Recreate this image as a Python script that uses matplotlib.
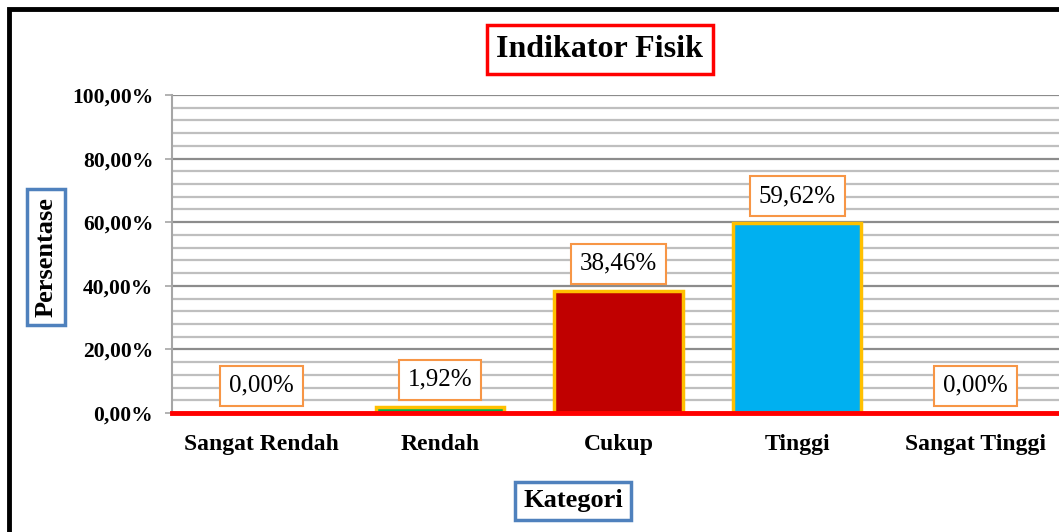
import matplotlib
matplotlib.use("Agg")
import matplotlib.pyplot as plt
from matplotlib.patches import Rectangle
from matplotlib.ticker import MultipleLocator, FuncFormatter

categories = ["Sangat Rendah", "Rendah", "Cukup", "Tinggi", "Sangat Tinggi"]
values = [0.00, 1.92, 38.46, 59.62, 0.00]
labels = ["0,00%", "1,92%", "38,46%", "59,62%", "0,00%"]
colors = ["#00B050", "#00B050", "#C00000", "#00B0F0", "#00B050"]

W, H = 1059, 532
fig = plt.figure(figsize=(W / 100, H / 100), dpi=100)
serif = ["Liberation Serif", "DejaVu Serif"]

# axes: left 172, right ~1065, top 95, bottom 413
ax = fig.add_axes([172 / W, 1 - 413 / H, (1065 - 172) / W, (413 - 95) / H])
x = list(range(len(categories)))
ax.bar(x, values, width=0.72, color=colors, edgecolor="#FFC000", linewidth=2.5, zorder=3)
ax.set_xlim(-0.5, 4.5)
ax.set_ylim(0, 100)
ax.yaxis.set_major_locator(MultipleLocator(20))
ax.yaxis.set_minor_locator(MultipleLocator(4))
ax.grid(which="major", axis="y", color="#8C8C8C", linewidth=1.6, zorder=0)
ax.grid(which="minor", axis="y", color="#BFBFBF", linewidth=1.6, zorder=0)
ax.yaxis.set_major_formatter(FuncFormatter(lambda v, p: f"{v:.2f}".replace(".", ",") + "%"))
for s in ["top", "right", "bottom"]:
    ax.spines[s].set_visible(False)
ax.spines["left"].set_color("#A6A6A6")
ax.spines["left"].set_linewidth(1.5)
ax.axhline(0, color="#FF0000", linewidth=3.5, zorder=4, clip_on=False)
ax.tick_params(axis="y", which="major", length=5, color="#A6A6A6", width=1.2, pad=8.5)
ax.tick_params(axis="y", which="minor", length=0)
ax.tick_params(axis="x", length=0, pad=15)
ax.set_xticks(x)
ax.set_xticklabels(categories, fontfamily=serif, fontweight="bold", fontsize=17)
for t in ax.get_yticklabels():
    t.set_fontfamily(serif)
    t.set_fontweight("bold")
    t.set_fontsize(15.5)

for xi, v, lab in zip(x, values, labels):
    ax.annotate(lab, (xi, v), xytext=(0, 19.5), textcoords="offset points",
                ha="center", va="center", fontsize=18, fontfamily=serif, zorder=5,
                bbox=dict(boxstyle="square,pad=0.36", fc="white", ec="#F79646", lw=1.5))

fig.text(600 / W, 1 - 49.5 / H, "Indikator Fisik", ha="center", va="center",
         fontsize=23, fontweight="bold", fontfamily=serif,
         bbox=dict(boxstyle="square,pad=0.3", fc="white", ec="#FF0000", lw=2.5))
fig.text(46 / W, 1 - 257 / H, "Persentase", ha="center", va="center", rotation=90,
         fontsize=19, fontweight="bold", fontfamily=serif,
         bbox=dict(boxstyle="square,pad=0.3", fc="white", ec="#4F81BD", lw=2.5))
fig.text(573 / W, 1 - 501 / H, "Kategori", ha="center", va="center",
         fontsize=19, fontweight="bold", fontfamily=serif,
         bbox=dict(boxstyle="square,pad=0.3", fc="white", ec="#4F81BD", lw=2.5))

fig.patches.append(Rectangle((8.5 / W, -0.1), 1.2, 1 - 8.5 / H + 0.1, transform=fig.transFigure,
                             fill=False, ec="black", lw=3.5))

fig.savefig("out.png", dpi=100)
